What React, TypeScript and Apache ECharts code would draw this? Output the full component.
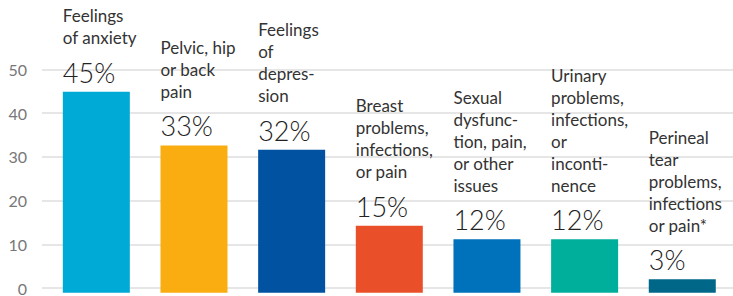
import React, { useEffect, useRef } from "react";
import * as echarts from "echarts";

const categories = [
  "Feelings\nof anxiety",
  "Pelvic, hip\nor back\npain",
  "Feelings\nof\ndepres-\nsion",
  "Breast\nproblems,\ninfections,\nor pain",
  "Sexual\ndysfunc-\ntion, pain,\nor other\nissues",
  "Urinary\nproblems,\ninfections,\nor\ninconti-\nnence",
  "Perineal\ntear\nproblems,\ninfections\nor pain*",
];
const values = [45, 33, 32, 15, 12, 12, 3];
const colors = ["#00AAD7", "#F9AD10", "#0152A0", "#E9502A", "#0071BB", "#00AE9C", "#006789"];
const yTicks = [0, 10, 20, 30, 40, 50];

const FONT = "Lato, 'Source Sans Pro', sans-serif";

export default function App() {
  const ref = useRef<HTMLDivElement>(null);
  useEffect(() => {
    if (!ref.current) return;
    const chart = echarts.init(ref.current, null, { renderer: "svg" });
    const top = 69.5;
    const bottom = 3.3;
    chart.setOption({
      animation: false,
      textStyle: { fontFamily: FONT },
      grid: [
        { left: 42, right: 0, top, bottom },
        { left: 47.5, right: 1.9, top, bottom },
      ],
      xAxis: [
        { type: "category", gridIndex: 0, data: categories, show: false },
        { type: "category", gridIndex: 1, data: categories, show: false },
      ],
      yAxis: [
        {
          type: "value",
          gridIndex: 0,
          min: yTicks[0],
          max: yTicks[yTicks.length - 1],
          interval: 10,
          axisLine: { show: false },
          axisTick: { show: false },
          axisLabel: { color: "#777", fontSize: 16, margin: 15, fontFamily: FONT },
          splitLine: { lineStyle: { color: "#dedede", width: 1.5 } },
        },
        {
          type: "value",
          gridIndex: 1,
          min: yTicks[0],
          max: yTicks[yTicks.length - 1],
          show: false,
          splitLine: { show: false },
        },
      ],
      series: [
        {
          type: "bar",
          xAxisIndex: 1,
          yAxisIndex: 1,
          barWidth: 67,
          data: values.map((v, i) => ({ value: v, itemStyle: { color: colors[i] } })),
          label: {
            show: true,
            position: [0, 4],
            align: "left",
            verticalAlign: "bottom",
            formatter: (p: any) => {
              const lines = String(p.name)
                .split("\n")
                .map((l: string) => `{n|${l}}`)
                .join("\n");
              return `${lines}\n{p|${p.value}%}`;
            },
            rich: {
              n: { fontSize: 17, lineHeight: 22, color: "#333", fontFamily: FONT },
              p: { fontSize: 27, lineHeight: 47, color: "#222", fontWeight: 300, fontFamily: FONT },
            },
          },
        },
      ],
    });
    return () => chart.dispose();
  }, []);
  return (
    <div
      ref={ref}
      style={{ position: "fixed", left: 0, top: 0, width: 733, height: 296, background: "#fff" }}
    />
  );
}
